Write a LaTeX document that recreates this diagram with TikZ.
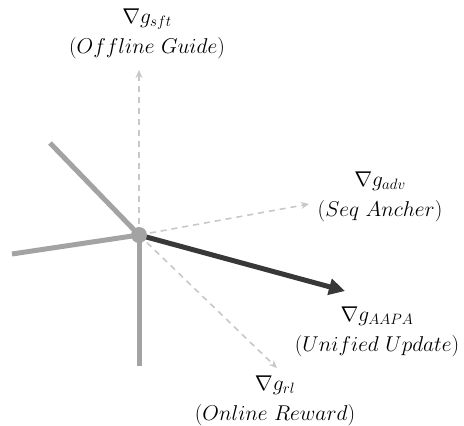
\RequirePackage{fix-cm}
\documentclass[tikz,border=0pt]{standalone}
\usetikzlibrary{arrows.meta}
\definecolor{axisgray}{HTML}{A3A3A3}
\definecolor{dashgray}{HTML}{C8C8C8}
\definecolor{darkarrow}{HTML}{383838}
\tikzset{
  solidaxis/.style={draw=axisgray, line width=5bp},
  guide/.style={draw=dashgray, line width=1.6bp, dash pattern=on 6bp off 5bp, -{Stealth[length=8bp,width=7bp]}},
  unified/.style={draw=darkarrow, line width=5bp, -{Triangle[length=16bp,width=16bp]}},
  lbl/.style={align=center, inner sep=0pt, font=\fontsize{21.5}{30}\selectfont}
}
\begin{document}
\begin{tikzpicture}[x=1bp, y=-1bp]
  \useasboundingbox (0,0) rectangle (464,425);
  \coordinate (o) at (139,235);
  \coordinate (ul) at (50,143);
  \coordinate (le) at (12,254);
  \coordinate (dn) at (139,366);
  \coordinate (sft) at (139,70);
  \coordinate (adv) at (309,204);
  \coordinate (rl) at (277,368);
  \coordinate (aapa) at (345,291);
  % grey base directions
  \draw[solidaxis] (ul) -- (o);
  \draw[solidaxis] (le) -- (o);
  \draw[solidaxis] (o) -- (dn);
  % dashed component gradients
  \draw[guide] (o) -- (sft);
  \draw[guide] (o) -- (adv);
  \draw[guide] (o) -- (rl);
  % combined update
  \draw[unified] (o) -- (aapa);
  \fill[axisgray] (o) circle (8bp);
  % labels
  \node[lbl] (tsft) at (147,34) {$\nabla g_{sft}$\\$(Offline\ Guide)$};
  \node[lbl] (tadv) at (380,197) {$\nabla g_{adv}$\\$(Seq\ Ancher)$};
  \node[lbl] (taapa) at (377,332) {$\nabla g_{AAPA}$\\$(Unified\ Update)$};
  \node[lbl] (trl) at (275,401) {$\nabla g_{rl}$\\$(Online\ Reward)$};
\end{tikzpicture}
\end{document}
